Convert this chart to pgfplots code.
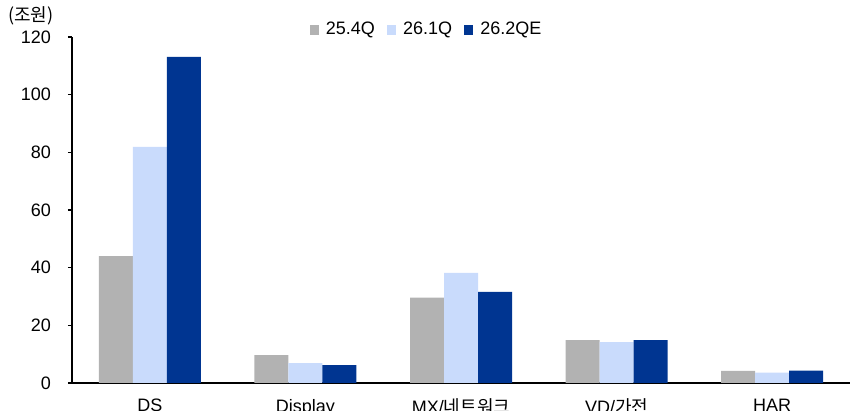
\documentclass[border=0pt]{standalone}
\usepackage{pgfplots}
\pgfplotsset{compat=1.18}
\usepackage{fontspec}
\setmainfont{Liberation Sans}
\newfontfamily\kr{Noto Sans CJK KR}
\definecolor{cgray}{HTML}{B2B2B2}
\definecolor{clight}{HTML}{C9DBFC}
\definecolor{cdark}{HTML}{003591}
\begin{document}
\begin{tikzpicture}
\begin{axis}[
  scale only axis,
  width=389pt, height=173pt,
  ybar=0pt, bar width=0.2185,
  xmin=-0.5, xmax=4.5,
  ymin=0, ymax=120,
  ytick={0,20,...,120},
  xtick={0,1,2,3,4},
  xticklabels={DS,Display,{MX/\kr 네트워크},{VD/\kr 가전},HAR},
  major x tick style={draw=none},
  extra x ticks={0.5,1.5,2.5,3.5,4.5},
  extra x tick labels={},
  extra x tick style={major tick length=3pt, tick style={draw=black, line width=0.8pt}, tick align=inside},
  axis x line*=bottom, axis y line*=left,
  x axis line style={line width=1.1pt, -},
  y axis line style={line width=0.8pt, -},
  y tick style={draw=black, line width=0.8pt},
  tick align=outside,
  major tick length=2pt,
  tick label style={font=\fontsize{9}{10.8}\selectfont},
  /pgf/number format/assume math mode=true,
  xticklabel style={yshift=-2.5pt},
  yticklabel style={xshift=-5pt},
  legend style={draw=none, at={(rel axis cs:0.457,1.02)}, anchor=center,
    legend columns=-1, font=\fontsize{9}{10.8}\selectfont,
    /tikz/every odd column/.append style={column sep=1.5pt},
    /tikz/every even column/.append style={column sep=4pt},
    inner sep=0pt},
  legend image code/.code={\fill[#1] (0pt,-2.3pt) rectangle (4.6pt,2.3pt);},
  clip=false,
]
\addplot[fill=cgray, draw=none] coordinates {(0,44.0) (1,9.7) (2,29.6) (3,14.9) (4,4.2)};
\addplot[fill=clight, draw=none] coordinates {(0,81.9) (1,6.9) (2,38.2) (3,14.2) (4,3.6)};
\addplot[fill=cdark, draw=none] coordinates {(0,113.1) (1,6.2) (2,31.6) (3,14.9) (4,4.3)};
\legend{25.4Q,26.1Q,26.2QE}
\node[font=\kr\fontsize{9}{10.8}\selectfont, anchor=center] at (axis description cs:-0.053,1.061) {(조원)};
\end{axis}
\pgfresetboundingbox
\useasboundingbox (-36pt,-14pt) rectangle (389pt,191.5pt);
\end{tikzpicture}
\end{document}
